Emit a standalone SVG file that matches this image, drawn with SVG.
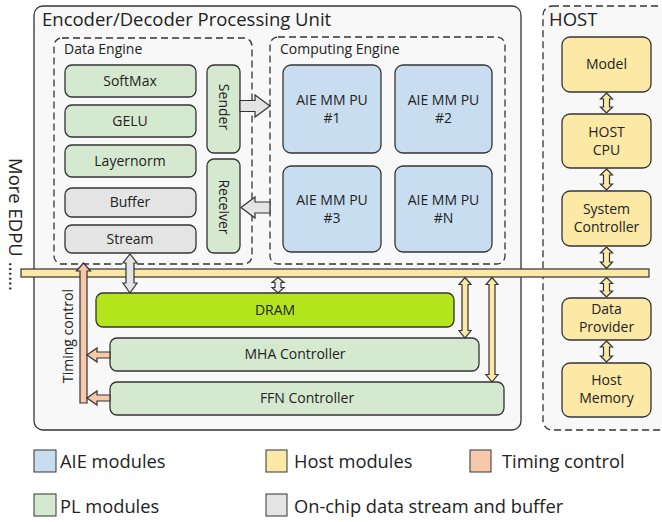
<svg xmlns="http://www.w3.org/2000/svg" width="662" height="522" viewBox="0 0 662 522">
<style>
text{font-family:"Open Sans","Noto Sans","Liberation Sans",sans-serif;fill:#222;}
.t14{font-size:14px;text-anchor:middle;}
.t13{font-size:14px;}
.t18{font-size:18.5px;}
.leg{font-size:18.3px;}
.box{stroke:#333;stroke-width:1.3;}
.dash{fill:none;stroke:#333;stroke-width:1.3;stroke-dasharray:7,4;}
.aie{fill:#c9ddf0;}
.pl{fill:#d5e8d0;}
.gr{fill:#e4e4e4;}
.hs{fill:#fde9a6;}
.tm{fill:#f7c9ab;}
.dr{fill:#b5e61d;}
.arr{stroke:#333;stroke-width:1.2;stroke-linejoin:miter;}
</style>
<rect x="0" y="0" width="662" height="522" fill="#fff"/>
<g id="edpu">
<rect x="34" y="6" width="487" height="424" rx="9" fill="#f8f8f8" stroke="#333" stroke-width="1.3"/>
<text x="42" y="26" class="t18">Encoder/Decoder Processing Unit</text>
</g>
<g id="host">
<rect x="543" y="6" width="130" height="424" rx="9" class="dash" style="fill:#f8f8f8"/>
<text x="549" y="26" class="t18">HOST</text>
</g>
<g id="data-engine">
<rect x="54" y="38" width="198" height="226" rx="8" class="dash"/>
<text x="64" y="54" class="t13">Data Engine</text>
</g>
<g id="computing-engine">
<rect x="270" y="37" width="235" height="227" rx="8" class="dash"/>
<text x="280" y="54" class="t13">Computing Engine</text>
</g>
<g id="softmax"><rect x="65" y="65" width="131" height="32" rx="7" class="box pl"/><text x="130" y="86" class="t14">SoftMax</text></g>
<g id="gelu"><rect x="65" y="105" width="131" height="32" rx="7" class="box pl"/><text x="130" y="126" class="t14">GELU</text></g>
<g id="layernorm"><rect x="65" y="145" width="131" height="32" rx="7" class="box pl"/><text x="130" y="166" class="t14">Layernorm</text></g>
<g id="buffer"><rect x="65" y="188" width="131" height="29" rx="7" class="box gr"/><text x="130" y="207" class="t14">Buffer</text></g>
<g id="stream"><rect x="65" y="225" width="131" height="28" rx="7" class="box gr"/><text x="130" y="244" class="t14">Stream</text></g>
<g id="sender"><rect x="207" y="65" width="33" height="88" rx="7" class="box pl"/><text transform="translate(218.5,107) rotate(90)" class="t14">Sender</text></g>
<g id="receiver"><rect x="207" y="159" width="33" height="94" rx="7" class="box pl"/><text transform="translate(218.5,207) rotate(90)" class="t14">Receiver</text></g>
<g id="pu1"><rect x="283" y="65" width="98" height="88" rx="8" class="box aie"/><text x="332" y="105" class="t14">AIE MM PU</text><text x="332" y="123" class="t14">#1</text></g>
<g id="pu2"><rect x="395" y="65" width="97" height="88" rx="8" class="box aie"/><text x="443.5" y="105" class="t14">AIE MM PU</text><text x="443.5" y="123" class="t14">#2</text></g>
<g id="pu3"><rect x="283" y="166" width="98" height="86" rx="8" class="box aie"/><text x="332" y="205" class="t14">AIE MM PU</text><text x="332" y="223" class="t14">#3</text></g>
<g id="puN"><rect x="395" y="166" width="97" height="86" rx="8" class="box aie"/><text x="443.5" y="205" class="t14">AIE MM PU</text><text x="443.5" y="223" class="t14">#N</text></g>
<g id="model"><rect x="562" y="37" width="89" height="55" rx="8" class="box hs"/><text x="606.5" y="69" class="t14">Model</text></g>
<g id="host-cpu"><rect x="562" y="114" width="89" height="54" rx="8" class="box hs"/><text x="606.5" y="137" class="t14">HOST</text><text x="606.5" y="155" class="t14">CPU</text></g>
<g id="system-controller"><rect x="562" y="191" width="89" height="55" rx="8" class="box hs"/><text x="606.5" y="214" class="t14">System</text><text x="606.5" y="232" class="t14">Controller</text></g>
<g id="data-provider"><rect x="562" y="298" width="89" height="42" rx="8" class="box hs"/><text x="606.5" y="314" class="t14">Data</text><text x="606.5" y="332" class="t14">Provider</text></g>
<g id="host-memory"><rect x="562" y="363" width="89" height="54" rx="8" class="box hs"/><text x="606.5" y="385" class="t14">Host</text><text x="606.5" y="403" class="t14">Memory</text></g>
<g id="dram"><rect x="96" y="293" width="358" height="34" rx="7" class="box dr"/><text x="275" y="315" class="t14">DRAM</text></g>
<g id="mha"><rect x="110" y="338" width="369" height="33" rx="7" class="box pl"/><text x="295" y="359" class="t14">MHA Controller</text></g>
<g id="ffn"><rect x="110" y="382" width="394" height="33" rx="7" class="box pl"/><text x="307" y="403" class="t14">FFN Controller</text></g>
<g id="bus"><rect x="21" y="269" width="628" height="8" fill="#fde9a6" stroke="#333" stroke-width="1.2"/></g>
<g id="more-edpu"><text transform="translate(9,158) rotate(90)" class="t18">More EDPU ......</text></g>
<g id="timing-label"><text transform="translate(73,336) rotate(-90)" style="font-size:14px;text-anchor:middle">Timing control</text></g>
<g id="connectors">
<polygon class="arr gr" points="240,100.5 255,100.5 255,95 270,106 255,117 255,111.5 240,111.5"/>
<polygon class="arr gr" points="270,202 255,202 255,197 241,207.5 255,218 255,213 270,213"/>
<polygon class="arr gr" points="130,254 137,263 134,263 134,283 137,283 130,293 123,283 126,283 126,263 123,263"/>
<polygon class="arr" fill="#eee" points="278,277.5 284,282.5 281,282.5 281,287.5 284,287.5 278,293 272,287.5 275,287.5 275,282.5 272,282.5"/>
<polygon class="arr hs" points="465,277.5 471,284.5 468,284.5 468,330.5 471,330.5 465,338 459,330.5 462,330.5 462,284.5 459,284.5"/>
<polygon class="arr hs" points="492,277.5 498,284.5 495,284.5 495,374.5 498,374.5 492,382 486,374.5 489,374.5 489,284.5 486,284.5"/>
<polygon class="arr hs" points="606.5,93 612.5,99 609.5,99 609.5,107 612.5,107 606.5,113 600.5,107 603.5,107 603.5,99 600.5,99"/>
<polygon class="arr hs" points="606.5,169 612.5,175 609.5,175 609.5,184 612.5,184 606.5,190 600.5,184 603.5,184 603.5,175 600.5,175"/>
<polygon class="arr hs" points="606.5,247 612.5,253 609.5,253 609.5,262 612.5,262 606.5,268.5 600.5,262 603.5,262 603.5,253 600.5,253"/>
<polygon class="arr hs" points="606.5,277.5 612.5,283.5 609.5,283.5 609.5,291 612.5,291 606.5,297 600.5,291 603.5,291 603.5,283.5 600.5,283.5"/>
<polygon class="arr hs" points="606.5,341 612.5,347 609.5,347 609.5,356 612.5,356 606.5,362 600.5,356 603.5,356 603.5,347 600.5,347"/>
<polygon class="arr tm" points="83.5,263 90.5,271 87,271 87,403 80,403 80,271 76.5,271"/>
<polygon class="arr tm" points="110,352 97,352 97,348 87,355 97,362 97,358 110,358"/>
<polygon class="arr tm" points="110,395 97,395 97,391 87,398 97,405 97,401 110,401"/>
</g>
<g id="legend">
<rect x="34" y="450" width="22" height="22" class="aie" stroke="#333" stroke-width="1"/>
<text x="60" y="468" class="leg">AIE modules</text>
<rect x="266" y="450" width="21" height="22" class="hs" stroke="#333" stroke-width="1"/>
<text x="294" y="468" class="leg">Host modules</text>
<rect x="470" y="450" width="21" height="22" class="tm" stroke="#333" stroke-width="1"/>
<text x="502" y="468" class="leg">Timing control</text>
<rect x="34" y="494" width="22" height="22" class="pl" stroke="#333" stroke-width="1"/>
<text x="60" y="513" class="leg">PL modules</text>
<rect x="266" y="494" width="21" height="22" class="gr" stroke="#333" stroke-width="1"/>
<text x="294" y="513" class="leg">On-chip data stream and buffer</text>
</g>
</svg>
